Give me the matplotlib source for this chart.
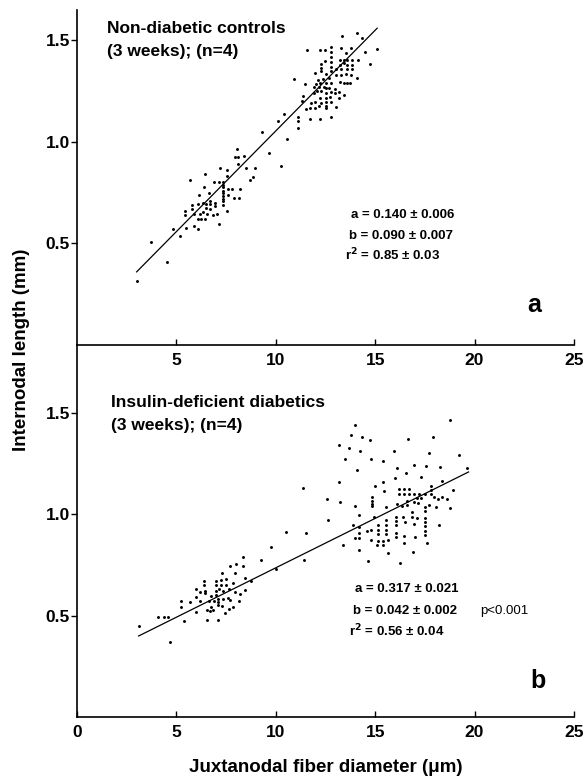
"""Internodal length vs juxtanodal fiber diameter, controls vs diabetics."""

import matplotlib

matplotlib.use("Agg")
import matplotlib.pyplot as plt

plt.rcParams["font.family"] = ["Liberation Sans", "DejaVu Sans"]
plt.rcParams["font.weight"] = "bold"

# Panel a: non-diabetic controls (diameter um, internodal length mm)
ctrl_points = [
    (9.33, 1.050), (8.07, 0.967), (9.66, 0.944), (7.94, 0.925), (8.12, 0.925),
    (8.39, 0.931), (8.11, 0.893), (10.25, 0.882), (8.51, 0.873), (8.98, 0.873),
    (7.20, 0.870), (7.54, 0.860), (6.42, 0.842), (7.54, 0.834), (8.86, 0.826),
    (8.68, 0.811), (5.68, 0.811), (6.90, 0.801), (7.12, 0.801), (7.32, 0.801),
    (6.38, 0.777), (7.33, 0.788), (7.33, 0.777), (7.62, 0.770), (7.79, 0.770),
    (8.19, 0.770), (6.65, 0.749), (7.35, 0.760), (7.35, 0.747), (7.35, 0.734),
    (7.35, 0.721), (7.35, 0.708), (7.35, 0.688), (6.15, 0.739), (7.62, 0.740),
    (7.89, 0.726), (8.14, 0.726), (5.81, 0.688), (6.08, 0.696), (6.32, 0.700),
    (6.48, 0.696), (6.68, 0.709), (6.68, 0.695), (6.92, 0.701), (6.92, 0.685),
    (6.48, 0.673), (6.68, 0.668), (6.35, 0.657), (5.81, 0.668), (5.44, 0.658),
    (5.44, 0.639), (5.90, 0.647), (6.18, 0.645), (6.55, 0.647), (6.82, 0.640),
    (7.05, 0.647), (7.54, 0.660), (6.08, 0.619), (6.25, 0.619), (6.45, 0.619),
    (5.49, 0.578), (5.88, 0.588), (6.11, 0.573), (4.84, 0.573), (7.12, 0.594),
    (5.18, 0.535), (3.72, 0.506), (4.51, 0.409), (3.02, 0.317),
    (13.33, 1.522), (14.10, 1.538), (14.34, 1.514), (15.11, 1.458), (14.47, 1.445),
    (14.74, 1.382), (11.57, 1.453), (12.24, 1.453), (12.50, 1.453), (12.76, 1.469),
    (12.76, 1.445), (12.76, 1.420), (12.76, 1.396), (12.76, 1.371), (12.76, 1.347),
    (13.30, 1.461), (13.77, 1.464), (13.55, 1.436), (12.48, 1.399), (12.26, 1.382),
    (12.26, 1.365), (12.26, 1.350), (13.22, 1.404), (13.43, 1.404), (13.60, 1.404),
    (13.85, 1.404), (14.14, 1.404), (13.22, 1.380), (13.43, 1.390), (13.60, 1.380),
    (13.85, 1.380), (13.02, 1.360), (13.27, 1.357), (13.60, 1.357), (13.85, 1.357),
    (11.99, 1.338), (12.51, 1.333), (13.02, 1.330), (13.27, 1.328), (13.52, 1.335),
    (13.77, 1.328), (14.10, 1.313), (10.92, 1.308), (12.14, 1.305), (12.40, 1.308),
    (12.68, 1.313), (13.23, 1.297), (13.43, 1.292), (13.60, 1.292), (13.73, 1.292),
    (11.47, 1.286), (12.01, 1.286), (12.23, 1.289), (12.51, 1.289), (12.76, 1.289),
    (11.93, 1.273), (12.18, 1.273), (12.43, 1.273), (12.51, 1.264), (12.68, 1.264),
    (12.96, 1.260), (12.09, 1.251), (12.26, 1.251), (11.93, 1.243), (12.76, 1.248),
    (12.96, 1.240), (13.18, 1.248), (13.43, 1.232), (11.37, 1.227), (12.51, 1.240),
    (12.51, 1.218), (12.73, 1.223), (12.23, 1.218), (11.98, 1.199), (12.26, 1.194),
    (13.18, 1.215), (11.31, 1.204), (11.76, 1.190), (12.51, 1.199), (12.80, 1.196),
    (12.51, 1.177), (12.51, 1.166), (12.18, 1.177), (13.02, 1.171), (11.51, 1.164),
    (11.73, 1.166), (11.98, 1.166), (10.42, 1.136), (11.12, 1.125), (11.12, 1.103),
    (11.12, 1.070), (12.78, 1.125), (10.09, 1.103), (11.74, 1.113), (12.24, 1.113),
    (10.59, 1.013),
]
ctrl_fit_x = [3.0, 15.1]
ctrl_fit_y = [0.36, 1.56]
ctrl_stats = ["a = 0.140 \u00b1 0.006", "b = 0.090 \u00b1 0.007", "r$^2$ = 0.85 \u00b1 0.03"]

# Panel b: insulin-deficient diabetics
diab_points = [
    (10.49, 0.914), (9.78, 0.838), (9.26, 0.777), (8.33, 0.792), (7.71, 0.748),
    (8.00, 0.754), (8.33, 0.748), (7.27, 0.711), (7.94, 0.711), (10.03, 0.731),
    (8.73, 0.672), (8.46, 0.687), (8.46, 0.629), (6.38, 0.673), (6.38, 0.652),
    (6.97, 0.673), (7.24, 0.677), (7.50, 0.682), (6.97, 0.652), (7.24, 0.652),
    (7.50, 0.652), (7.87, 0.662), (6.01, 0.632), (6.20, 0.619), (6.43, 0.624),
    (6.43, 0.610), (6.97, 0.620), (7.14, 0.632), (7.35, 0.624), (7.64, 0.632),
    (7.94, 0.615), (8.19, 0.607), (6.72, 0.599), (7.00, 0.604), (6.01, 0.594),
    (5.24, 0.574), (5.24, 0.545), (5.71, 0.569), (6.18, 0.574), (6.63, 0.574),
    (6.88, 0.571), (7.10, 0.583), (7.10, 0.566), (7.10, 0.553), (7.35, 0.583),
    (7.60, 0.588), (7.72, 0.579), (8.14, 0.574), (6.72, 0.545), (6.83, 0.528),
    (6.55, 0.528), (7.27, 0.550), (7.64, 0.533), (7.84, 0.545), (6.00, 0.520),
    (6.67, 0.525), (7.44, 0.516), (4.09, 0.492), (4.39, 0.492), (4.59, 0.492),
    (5.38, 0.475), (6.52, 0.480), (7.09, 0.480), (3.12, 0.450), (4.66, 0.368),
    (13.97, 1.444), (18.78, 1.465), (13.78, 1.391), (14.32, 1.383), (14.76, 1.370),
    (16.65, 1.375), (17.92, 1.383), (13.20, 1.342), (13.67, 1.328), (14.24, 1.312),
    (15.93, 1.312), (17.70, 1.304), (19.20, 1.292), (13.50, 1.274), (14.81, 1.274),
    (15.39, 1.266), (16.11, 1.229), (16.93, 1.243), (17.54, 1.239), (18.28, 1.236),
    (14.09, 1.218), (16.55, 1.206), (16.01, 1.182), (17.32, 1.185), (19.63, 1.231),
    (13.20, 1.160), (15.39, 1.160), (18.34, 1.165), (14.97, 1.139), (11.36, 1.129),
    (16.20, 1.124), (16.43, 1.125), (16.68, 1.125), (17.79, 1.142), (17.79, 1.122),
    (17.79, 1.102), (15.43, 1.114), (18.94, 1.119), (16.18, 1.099), (16.43, 1.099),
    (16.68, 1.099), (16.93, 1.099), (17.22, 1.099), (17.49, 1.099), (17.10, 1.080),
    (17.30, 1.080), (17.97, 1.085), (18.16, 1.078), (18.36, 1.085), (18.61, 1.078),
    (12.58, 1.074), (13.25, 1.061), (13.97, 1.040), (14.84, 1.086), (14.84, 1.069),
    (14.84, 1.053), (14.84, 1.040), (15.54, 1.036), (16.10, 1.053), (16.35, 1.040),
    (16.60, 1.069), (16.60, 1.045), (16.93, 1.061), (17.18, 1.056), (17.49, 1.036),
    (17.72, 1.045), (18.06, 1.036), (18.78, 1.033),
    (14.17, 0.995), (14.92, 0.990), (16.05, 0.990), (16.05, 0.967), (16.05, 0.946),
    (16.38, 0.990), (16.48, 0.962), (16.85, 1.011), (16.85, 0.987), (17.10, 0.984),
    (17.49, 1.016), (17.49, 0.984), (17.49, 0.962), (17.49, 0.941), (17.49, 0.917),
    (16.93, 0.954), (15.54, 0.974), (15.54, 0.950), (15.54, 0.924), (15.54, 0.904),
    (15.14, 0.946), (15.14, 0.924), (15.14, 0.904), (18.19, 0.950), (14.81, 0.921),
    (14.59, 0.917), (14.17, 0.937), (14.17, 0.907), (14.17, 0.885), (13.89, 0.946),
    (13.97, 0.885), (14.81, 0.875), (15.14, 0.871), (15.38, 0.868), (15.64, 0.875),
    (16.05, 0.910), (16.05, 0.890), (16.43, 0.896), (16.98, 0.888), (17.49, 0.900),
    (17.60, 0.860), (15.09, 0.851), (15.38, 0.847), (16.43, 0.858), (13.37, 0.850),
    (14.20, 0.825), (15.64, 0.810), (16.88, 0.817), (14.64, 0.772), (16.27, 0.759),
    (11.41, 0.777), (11.52, 0.907), (12.63, 0.974),
]
diab_fit_x = [3.1, 19.7]
diab_fit_y = [0.40, 1.21]
diab_stats = ["a = 0.317 \u00b1 0.021", "b = 0.042 \u00b1 0.002", "r$^2$ = 0.56 \u00b1 0.04"]

y_ticks = [0.5, 1.0, 1.5]
x_ticks_top = [5, 10, 15, 20, 25]
x_ticks_bottom = [0, 5, 10, 15, 20, 25]


def _style_axis(ax, xticks, ylim):
    ax.set_xlim(0, 25)
    ax.set_ylim(*ylim)
    ax.set_xticks(xticks)
    ax.set_xticklabels([str(t) for t in xticks])
    ax.set_yticks(y_ticks)
    ax.set_yticklabels([f"{t:.1f}" for t in y_ticks])
    ax.patch.set_visible(False)
    ax.spines["top"].set_visible(False)
    ax.spines["right"].set_visible(False)
    ax.spines["left"].set_linewidth(1.2)
    ax.spines["bottom"].set_linewidth(1.2)
    ax.tick_params(axis="x", direction="in", length=4, width=1, pad=6, labelsize=12.5)
    ax.tick_params(axis="y", direction="out", length=4, width=1, pad=1, labelsize=12.5)


def _panel(ax, points, fit_x, fit_y, stats, stat_x, stat_y):
    xs = [p[0] for p in points]
    ys = [p[1] for p in points]
    ax.scatter(xs, ys, s=4.5, color="black", linewidths=0, zorder=3)
    ax.plot(fit_x, fit_y, color="black", linewidth=0.9)
    for text, x, y in zip(stats, stat_x, stat_y):
        ax.text(x, y, text, fontsize=9.5, va="baseline", ha="left")


fig = plt.figure(figsize=(5.86, 7.78), dpi=100)
ax_b = fig.add_axes([0.1314, 0.0784, 0.848, 0.4782])
ax_a = fig.add_axes([0.1314, 0.5566, 0.848, 0.4306])

_style_axis(ax_a, x_ticks_top, (0, 1.65))
_style_axis(ax_b, x_ticks_bottom, (0, 1.837))

_panel(ax_a, ctrl_points, ctrl_fit_x, ctrl_fit_y, ctrl_stats,
       [13.77, 13.67, 13.47], [0.626, 0.522, 0.419])
ax_a.text(1.5, 1.537, "Non-diabetic controls", fontsize=12.5, va="baseline")
ax_a.text(1.5, 1.424, "(3 weeks); (n=4)", fontsize=12.5, va="baseline")
ax_a.text(22.66, 0.163, "a", fontsize=18, va="baseline")

_panel(ax_b, diab_points, diab_fit_x, diab_fit_y, diab_stats,
       [13.97, 13.87, 13.67], [0.615, 0.510, 0.400])
ax_b.text(20.29, 0.510, "p<0.001", fontsize=9.5, fontweight="normal", va="baseline")
ax_b.text(1.72, 1.531, "Insulin-deficient diabetics", fontsize=12.5, va="baseline")
ax_b.text(1.72, 1.416, "(3 weeks); (n=4)", fontsize=12.5, va="baseline")
ax_b.text(22.8, 0.145, "b", fontsize=18, va="baseline")

fig.text(0.0375, 0.551, "Internodal length (mm)", rotation=90, fontsize=13.5,
         ha="center", va="center")
fig.text(0.556, 0.014, "Juxtanodal fiber diameter (\u03bcm)", fontsize=13.5,
         ha="center", va="center")

fig.savefig("out.png", dpi=100)
